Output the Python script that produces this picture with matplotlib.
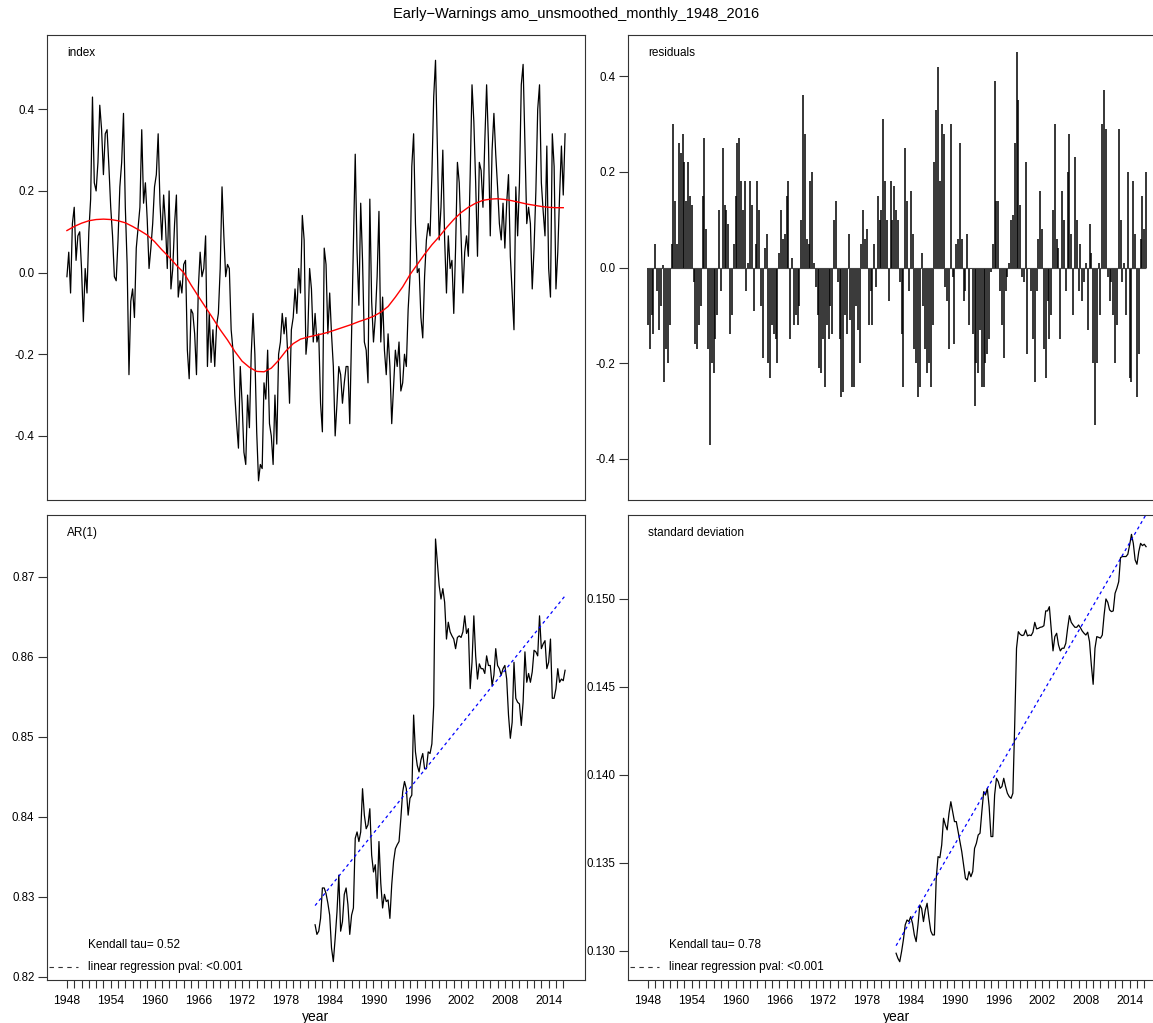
import numpy as np
import matplotlib
matplotlib.use("Agg")
import matplotlib.pyplot as plt

plt.rcParams['font.family'] = ['Liberation Sans', 'DejaVu Sans']
plt.rcParams['axes.unicode_minus'] = False

# ---- data (quarterly samples) ----
index_start = 1948.0
index_vals = [
    -0.01, 0.05, -0.05, 0.12, 0.16, 0.03, 0.09, 0.10, 0.01, -0.12,
    0.01, -0.05, 0.10, 0.18, 0.43, 0.22, 0.20, 0.27, 0.41, 0.35,
    0.24, 0.34, 0.35, 0.26, 0.16, 0.09, -0.01, -0.02, 0.08, 0.21,
    0.27, 0.39, 0.16, 0.02, -0.25, -0.07, -0.04, -0.11, 0.06, 0.11,
    0.16, 0.35, 0.17, 0.22, 0.13, 0.01, 0.06, 0.12, 0.21, 0.24,
    0.34, 0.17, 0.08, 0.19, 0.12, 0.01, 0.20, -0.04, 0.01, 0.12,
    0.19, -0.06, -0.02, -0.05, 0.02, 0.03, -0.19, -0.26,
    -0.09, -0.10, -0.15, -0.25, -0.04, 0.05, -0.01, 0.01, 0.09, -0.23, -0.10, -0.22,
    -0.14, -0.23, -0.13, -0.10, 0.01, 0.21, 0.09, -0.01, 0.02, 0.01,
    -0.14, -0.19, -0.30, -0.37, -0.43, -0.23, -0.32, -0.44, -0.47, -0.30,
    -0.38, -0.20, -0.10, -0.20, -0.39, -0.51, -0.47, -0.48, -0.27, -0.31,
    -0.19, -0.37, -0.40, -0.47, -0.30, -0.42, -0.20, -0.17, -0.10, -0.15,
    -0.11, -0.20, -0.32, -0.14, -0.11, -0.04, -0.10, 0.01, -0.05, 0.14,
    0.08, -0.20, -0.15, 0.01, -0.04, -0.17,
    -0.10, -0.17, -0.15, -0.32, -0.39, 0.06, 0.02, -0.15, -0.05, -0.15,
    -0.23, -0.40, -0.32, -0.23, -0.25, -0.32, -0.27, -0.23, -0.23, -0.37,
    -0.15, 0.08, 0.29, 0.05, -0.08, 0.17, 0.03, -0.17, -0.19, -0.27,
    0.18, -0.07, -0.17, -0.11, -0.01, 0.15, -0.17, -0.06, -0.19, -0.25,
    -0.15, -0.23, -0.37, -0.28, -0.19, -0.23, -0.17, -0.29, -0.27, -0.20,
    -0.23, -0.09, -0.01, 0.26, 0.34, 0.12, 0.00, 0.01, -0.11, -0.16,
    -0.01, 0.08, 0.12, 0.09, 0.24, 0.43, 0.52, 0.31,
    0.08, 0.16, 0.30, 0.08, -0.05, 0.09, 0.01, 0.03, -0.10, 0.06,
    0.27, 0.22, 0.09, -0.05, 0.05, 0.09, 0.04, 0.24, 0.46, 0.37,
    0.22, 0.04, 0.27, 0.25, 0.16, 0.32, 0.46, 0.32, 0.09, 0.30,
    0.39, 0.29, 0.21, 0.12, 0.08, 0.17, 0.06, 0.17, 0.24, 0.04,
    -0.05, -0.14, 0.21, 0.09, 0.22, 0.46, 0.51, 0.32, 0.12, 0.16,
    0.12, -0.04, 0.06, 0.20, 0.40, 0.46, 0.22, 0.15, 0.09, 0.31,
    0.01, -0.06, 0.34, 0.26, -0.04, 0.05, 0.19, 0.31, 0.19, 0.34,
]

trend_years = list(range(1948, 2017))
trend_vals = [
    0.103, 0.113, 0.121, 0.127, 0.130, 0.131, 0.130, 0.127, 0.122, 0.113,
    0.103, 0.092, 0.076, 0.056, 0.038, 0.018, 0.000, -0.030, -0.058, -0.085,
    -0.112, -0.140, -0.165, -0.193, -0.217, -0.232, -0.242, -0.243, -0.234, -0.215,
    -0.192, -0.174, -0.163, -0.158, -0.154, -0.150, -0.145, -0.139, -0.133, -0.127,
    -0.120, -0.114, -0.107, -0.097, -0.083, -0.060, -0.035, -0.005, 0.020, 0.045,
    0.068, 0.088, 0.110, 0.130, 0.147, 0.160, 0.170, 0.177, 0.180, 0.181,
    0.179, 0.176, 0.172, 0.168, 0.165, 0.162, 0.160, 0.159, 0.159,
]

resid_vals = [
    -0.12, -0.17, -0.10, -0.14, 0.05, -0.05, -0.13, -0.08, 0.005, -0.24,
    -0.17, -0.20, -0.12, 0.05, 0.30, 0.14, 0.05, 0.26, 0.24, 0.28,
    0.22, 0.14, 0.22, 0.15, 0.13, -0.03, -0.16, -0.17, -0.12, -0.08,
    0.15, 0.27, 0.08, -0.17, -0.37, -0.20, -0.22, -0.15, -0.10, 0.12,
    -0.05, 0.25, 0.13, 0.12, 0.09, -0.14, -0.10, 0.05, 0.15, 0.26,
    0.27, 0.18, 0.12, 0.18, -0.05, 0.01, 0.18, 0.13, -0.09, 0.05,
    0.18, 0.12, -0.08, -0.19, 0.04, 0.07, -0.20, -0.23, -0.12, -0.14,
    -0.15, -0.20, 0.03, 0.12, 0.06, 0.07, 0.15, 0.18, -0.15, 0.02,
    -0.12, -0.10, -0.12, -0.08, 0.10, 0.36, 0.28, 0.06, 0.05, 0.18,
    0.20, 0.01, -0.04, -0.10, -0.21, -0.22, -0.15, -0.25, -0.12, -0.15,
    -0.08, -0.14, 0.10, 0.14, -0.03, -0.15, -0.27, -0.26, -0.10, -0.14,
    0.07, -0.11, -0.25, -0.25, -0.08, -0.13, -0.20, 0.05, 0.12, 0.06,
    0.08, -0.12, -0.05, -0.12, 0.05, -0.04, 0.15, 0.10, 0.12, 0.31,
    0.18, 0.10, -0.07, 0.18, 0.10, 0.17, 0.12, 0.10, -0.03, -0.14,
    -0.25, 0.25, 0.14, -0.05, 0.16, 0.07, -0.17, -0.20, -0.27, -0.25,
    0.03, -0.08, -0.17, -0.22, -0.20, -0.25, -0.12, 0.22, 0.33, 0.42,
    0.18, 0.30, 0.28, -0.04, -0.07, -0.17, 0.30, -0.02, -0.16, 0.05,
    0.06, 0.26, 0.06, -0.07, -0.05, 0.07, -0.12, 0.00, -0.14, -0.29,
    -0.20, -0.22, -0.13, -0.25, -0.25, -0.20, -0.18, -0.15, -0.01, 0.05,
    0.39, 0.14, 0.14, -0.05, -0.12, -0.19, -0.05, -0.02, 0.01, 0.10,
    0.11, 0.26, 0.45, 0.35, 0.13, -0.02, -0.03, 0.22, -0.18, 0.00,
    -0.05, -0.15, -0.24, -0.05, 0.06, 0.16, 0.08, -0.17, -0.23, -0.07,
    -0.15, -0.10, 0.12, 0.30, 0.06, 0.04, -0.15, 0.16, 0.10, -0.05,
    0.20, 0.28, 0.07, -0.10, 0.23, 0.10, -0.05, 0.05, -0.07, -0.03,
    0.01, -0.13, 0.09, 0.03, -0.20, -0.33, -0.20, 0.01, -0.10, 0.30,
    0.37, 0.29, -0.02, -0.07, -0.03, -0.10, -0.20, -0.12, 0.29, 0.10,
    -0.03, 0.01, -0.10, 0.20, -0.23, -0.24, 0.18, 0.07, -0.27, -0.18,
    0.06, 0.15, 0.08, 0.20,
]

ews_start = 1982.0
ar1_vals = [
    0.8265, 0.8253, 0.8257, 0.8273, 0.8311, 0.8311, 0.8304, 0.8292, 0.8277, 0.8236,
    0.8219, 0.8248, 0.8281, 0.8327, 0.8257, 0.8269, 0.8303, 0.8311, 0.8290, 0.8253,
    0.8277, 0.8286, 0.8373, 0.8381, 0.8369, 0.8381, 0.8435, 0.8402, 0.8385, 0.8390,
    0.8410, 0.8352, 0.8331, 0.8340, 0.8298, 0.8369, 0.8317, 0.8286, 0.8303, 0.8294,
    0.8296, 0.8273, 0.8315, 0.8344, 0.8360, 0.8365, 0.8369, 0.8398, 0.8431, 0.8444,
    0.8435, 0.8402, 0.8423, 0.8427, 0.8527, 0.8481, 0.8464, 0.8456, 0.8471, 0.8479,
    0.8460, 0.8460, 0.8481, 0.8479, 0.8491, 0.8539, 0.8747, 0.8718, 0.8689, 0.8672,
    0.8685, 0.8668, 0.8622, 0.8643, 0.8631, 0.8626, 0.8622, 0.8610, 0.8624, 0.8626,
    0.8624, 0.8631, 0.8651, 0.8629, 0.8635, 0.8560, 0.8593, 0.8651, 0.8601, 0.8572,
    0.8591, 0.8585, 0.8585, 0.8579, 0.8601, 0.8589, 0.8589, 0.8564, 0.8577, 0.8610,
    0.8589, 0.8585, 0.8577, 0.8585, 0.8589, 0.8572, 0.8527, 0.8498, 0.8518, 0.8593,
    0.8548, 0.8543, 0.8541, 0.8514, 0.8543, 0.8606, 0.8568, 0.8579, 0.8568, 0.8581,
    0.8608, 0.8606, 0.8601, 0.8651, 0.8610, 0.8616, 0.8620, 0.8585, 0.8593, 0.8622,
    0.8548, 0.8548, 0.8560, 0.8585, 0.8568, 0.8572, 0.8570, 0.8583,
]
sd_vals = [
    0.12987, 0.12958, 0.12939, 0.12996, 0.13063, 0.13148, 0.13176, 0.13167, 0.13195, 0.13157,
    0.13091, 0.13053, 0.13148, 0.13261, 0.13242, 0.13167, 0.13233, 0.13271, 0.13186, 0.13114,
    0.13091, 0.13091, 0.13413, 0.13536, 0.13530, 0.13602, 0.13754, 0.13716, 0.13688, 0.13782,
    0.13848, 0.13792, 0.13735, 0.13735, 0.13678, 0.13621, 0.13564, 0.13489, 0.13413, 0.13403,
    0.13451, 0.13422, 0.13451, 0.13583, 0.13612, 0.13659, 0.13669, 0.13792, 0.13905, 0.13886,
    0.13924, 0.13820, 0.13650, 0.13650, 0.13886, 0.13981, 0.13962, 0.13924, 0.13934, 0.13981,
    0.13934, 0.13896, 0.13877, 0.13867, 0.13896, 0.14284, 0.14720, 0.14814, 0.14799, 0.14792,
    0.14795, 0.14824, 0.14790, 0.14795, 0.14792, 0.14811, 0.14867, 0.14830, 0.14833, 0.14839,
    0.14841, 0.14848, 0.14932, 0.14932, 0.14956, 0.14833, 0.14705, 0.14786, 0.14805, 0.14739,
    0.14705, 0.14720, 0.14720, 0.14748, 0.14833, 0.14905, 0.14867, 0.14852, 0.14839, 0.14839,
    0.14852, 0.14837, 0.14818, 0.14805, 0.14795, 0.14811, 0.14758, 0.14625, 0.14515, 0.14720,
    0.14786, 0.14782, 0.14777, 0.14795, 0.14909, 0.15000, 0.14981, 0.14938, 0.14928, 0.14932,
    0.15032, 0.15061, 0.15098, 0.15235, 0.15241, 0.15241, 0.15241, 0.15254, 0.15307, 0.15367,
    0.15316, 0.15222, 0.15197, 0.15269, 0.15316, 0.15303, 0.15311, 0.15297,
]
ar1_fit = [0.8289, 0.8676]
sd_fit = [0.1303, 0.1548]
kendall_ar1 = "0.52"
kendall_sd = "0.78"

years = index_start + 0.25 * np.arange(len(index_vals))
ews_years = ews_start + 0.25 * np.arange(len(ar1_vals))
fit_years = [ews_years[0], ews_years[-1]]

# ---- layout (pixel boxes of the R panels) ----
W, H = 1153, 1023
fig = plt.figure(figsize=(W / 100, H / 100), dpi=100)


def panel(x0, y0, x1, y1):
    return fig.add_axes([x0 / W, 1 - y1 / H, (x1 - x0) / W, (y1 - y0) / H])


ax_idx = panel(47, 35, 585, 500)
ax_res = panel(628, 35, 1166, 500)
ax_ar = panel(47, 515, 585, 980)
ax_sd = panel(628, 515, 1166, 980)

span = years[-1] - years[0]
xlim = (years[0] - 0.04 * span, years[-1] + 0.04 * span)

for ax in (ax_idx, ax_res, ax_ar, ax_sd):
    ax.set_xlim(*xlim)
    for s in ax.spines.values():
        s.set_linewidth(0.8)
        s.set_color('#333333')
    ax.tick_params(axis='y', direction='out', length=6.8, width=0.8,
                   labelsize=8.3, pad=2.2, color='#333333')

# index
ax_idx.plot(years, index_vals, color='black', lw=0.9)
ax_idx.plot(trend_years, trend_vals, color='red', lw=1.0)
ax_idx.set_ylim(-0.557, 0.582)
ax_idx.set_yticks([-0.4, -0.2, 0.0, 0.2, 0.4])
ax_idx.set_yticklabels(['-0.4', '-0.2', '0.0', '0.2', '0.4'])
ax_idx.set_xticks([])
ax_idx.text(0.037, 0.961, 'index', transform=ax_idx.transAxes,
            fontsize=8.5, va='center')

# residuals
ax_res.vlines(years, 0, resid_vals, color='black', lw=1.1)
ax_res.hlines(0, years[0], years[-1], color='#444444', lw=0.8)
ax_res.set_ylim(-0.486, 0.486)
ax_res.set_yticks([-0.4, -0.2, 0.0, 0.2, 0.4])
ax_res.set_yticklabels(['-0.4', '-0.2', '0.0', '0.2', '0.4'])
ax_res.set_xticks([])
ax_res.text(0.037, 0.961, 'residuals', transform=ax_res.transAxes,
            fontsize=8.5, va='center')

# AR(1) and standard deviation
tick_years = np.arange(1948, 2017)
tick_labels = [str(y) if (y - 1948) % 6 == 0 else '' for y in tick_years]

panels = [
    (ax_ar, ar1_vals, ar1_fit, (0.8196, 0.8777),
     [0.82, 0.83, 0.84, 0.85, 0.86, 0.87], '{:.2f}', 'AR(1)', kendall_ar1),
    (ax_sd, sd_vals, sd_fit, (0.12835, 0.15477),
     [0.130, 0.135, 0.140, 0.145, 0.150], '{:.3f}', 'standard deviation', kendall_sd),
]
for ax, vals, fit, ylim, yt, fmt, name, tau in panels:
    ax.plot(ews_years, vals, color='black', lw=0.9)
    ax.plot(fit_years, fit, color='blue', lw=0.9, linestyle=(0, (2.5, 2.5)))
    ax.set_ylim(*ylim)
    ax.set_yticks(yt)
    ax.set_yticklabels([fmt.format(v) for v in yt])
    ax.set_xticks(tick_years)
    ax.set_xticklabels(tick_labels)
    ax.tick_params(axis='x', direction='out', length=5.8, width=0.8,
                   labelsize=8.8, pad=5, color='#333333')
    ax.text(0.037, 0.961, name, transform=ax.transAxes, fontsize=8.5, va='center')
    ax.text(0.076, 0.075, 'Kendall tau= ' + tau, transform=ax.transAxes,
            fontsize=8.5, va='center')
    ax.text(0.076, 0.028, 'linear regression pval: <0.001', transform=ax.transAxes,
            fontsize=8.5, va='center')
    ax.plot([0.003, 0.057], [0.028, 0.028], transform=ax.transAxes, color='#333333',
            lw=0.8, linestyle=(0, (4, 4)), clip_on=False)

fig.text(316 / W, 1 - 1017 / H, 'year', ha='center', va='center', fontsize=10)
fig.text(897 / W, 1 - 1017 / H, 'year', ha='center', va='center', fontsize=10)
fig.text(0.5, 1 - 14 / H, 'Early\u2212Warnings amo_unsmoothed_monthly_1948_2016',
         ha='center', va='center', fontsize=10.5)

fig.savefig('out.png', dpi=100)
